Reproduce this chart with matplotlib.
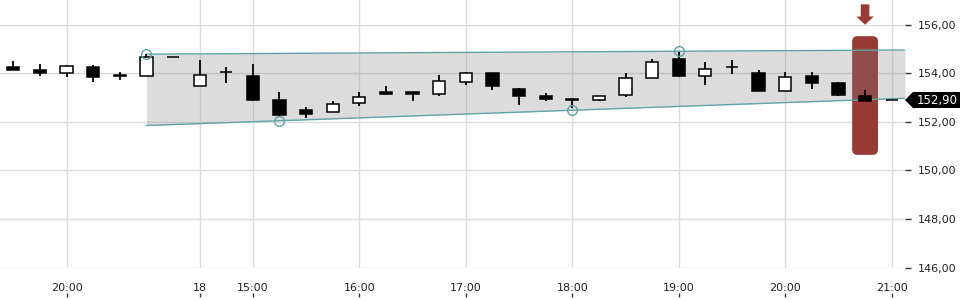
import matplotlib
matplotlib.use("Agg")
import matplotlib.pyplot as plt
import matplotlib.transforms as mtransforms
import numpy as np
from matplotlib.patches import FancyBboxPatch, FancyArrow, Polygon

# 15-minute candles
opens = [154.26, 154.15, 154.00, 154.26, 153.90, 153.88, 154.68, 153.46, 154.05, 153.90,
         152.92, 152.48, 152.40, 152.78, 153.25, 153.21, 153.15, 153.64, 154.01, 153.36,
         153.08, 152.95, 152.91, 153.11, 153.81, 154.59, 153.89, 154.25, 154.01, 153.26,
         153.90, 153.62, 153.08, 152.90]
highs = [154.52, 154.40, 154.36, 154.36, 154.04, 154.81, 154.69, 154.56, 154.27, 154.40,
         153.25, 152.63, 152.84, 153.21, 153.49, 153.21, 153.94, 154.06, 154.01, 153.40,
         153.19, 152.95, 153.07, 154.01, 154.60, 154.88, 154.47, 154.53, 154.14, 154.06,
         154.06, 153.64, 153.33, 152.90]
lows = [154.12, 153.88, 153.83, 153.66, 153.74, 153.88, 154.67, 153.46, 153.59, 152.88,
        152.20, 152.14, 152.40, 152.64, 153.11, 152.84, 153.05, 153.51, 153.30, 152.68,
        152.85, 152.58, 152.85, 153.01, 153.81, 153.85, 153.51, 153.99, 153.26, 153.26,
        153.34, 153.05, 152.85, 152.90]
closes = [154.12, 154.00, 154.30, 153.83, 153.90, 154.67, 154.68, 153.93, 154.05, 152.92,
          152.30, 152.31, 152.74, 153.03, 153.14, 153.14, 153.69, 154.01, 153.46, 153.05,
          152.93, 152.89, 153.07, 153.81, 154.47, 153.88, 154.18, 154.25, 153.26, 153.85,
          153.59, 153.09, 152.85, 152.90]

tick_idx = [2, 7, 9, 13, 17, 21, 25, 29, 33]
tick_labels = ["20:00", "18", "15:00", "16:00", "17:00", "18:00", "19:00", "20:00", "21:00"]
price_ticks = [146, 148, 150, 152, 154, 156]

# trend channel: start / end index with upper and lower values
channel_x = [5, 33.5]
channel_upper = [154.79, 154.96]
channel_lower = [151.85, 152.97]
touch_idx = [5, 10, 21, 25]
touch_side = ["upper", "lower", "lower", "upper"]

highlight_idx = 32
highlight_range = (150.66, 155.51)
last_price = 152.90

RED = "#993a35"
TEAL = "#5fa3a6"

fig = plt.figure(figsize=(9.6, 3.0), dpi=100)
ax = fig.add_axes([0, 32 / 300, 905 / 960, 268 / 300])

x = np.arange(len(opens))
o = np.array(opens)
c = np.array(closes)

# highlighted candle
pad = 0.2
hl = FancyBboxPatch(
    (highlight_idx - 0.485 + pad, highlight_range[0] + pad),
    0.97 - 2 * pad,
    highlight_range[1] - highlight_range[0] - 2 * pad,
    boxstyle=f"round,pad={pad}",
    mutation_aspect=1.1,
    facecolor=RED,
    edgecolor="none",
    zorder=1,
)
ax.add_patch(hl)
ax.add_patch(FancyArrow(
    highlight_idx, 156.84, 0, -0.84,
    width=0.32, head_width=0.66, head_length=0.34,
    length_includes_head=True, color=RED, lw=0, zorder=1,
))

# channel band
ax.fill_between(channel_x, channel_lower, channel_upper,
                color="#808080", alpha=0.27, lw=0, zorder=2)
ax.plot(channel_x, channel_upper, color=TEAL, lw=1, zorder=3)
ax.plot(channel_x, channel_lower, color=TEAL, lw=1, zorder=3)

for i, side in zip(touch_idx, touch_side):
    vals = channel_upper if side == "upper" else channel_lower
    y = np.interp(i, channel_x, vals)
    ax.plot(i, y, "o", ms=7, mfc="none", mec=TEAL, mew=1, zorder=6)

# candles
ax.vlines(x, lows, highs, color="black", lw=1.3, zorder=4)
body_bottom = np.minimum(o, c)
body_h = np.maximum(np.abs(c - o), 0.01)
colors = np.where(c > o, "white", "black")
ax.bar(x, body_h, bottom=body_bottom, width=0.46, color=colors,
       edgecolor="black", lw=1.1, zorder=5)

# last price tag
blend = mtransforms.blended_transform_factory(ax.transAxes, ax.transData)
h = 0.33
tag = Polygon(
    [(1.0, last_price), (1.0088, last_price + h), (1.0608, last_price + h),
     (1.0608, last_price - h), (1.0088, last_price - h)],
    closed=True, transform=blend, facecolor="black", edgecolor="none",
    clip_on=False, zorder=10,
)
ax.add_patch(tag)
ax.text(1.0355, last_price, f"{last_price:.2f}".replace(".", ","),
        transform=blend, color="white", fontsize=8.5,
        ha="center", va="center", zorder=11, clip_on=False)

# axes styling
ax.set_xlim(-0.5, 33.5)
ax.set_ylim(145.98, 157.02)
ax.set_yticks(price_ticks)
ax.set_yticklabels([f"{v:.2f}".replace(".", ",") for v in price_ticks])
ax.yaxis.tick_right()
ax.tick_params(axis="y", length=4, width=1, pad=5, labelsize=8,
               color="#333333", labelcolor="#222222")

ax.set_xticks(tick_idx)
ax.set_xticklabels(tick_labels)
ax.tick_params(axis="x", length=0, pad=10.5, labelsize=8, labelcolor="#222222")
ax.vlines(tick_idx, -0.108, -0.092, transform=ax.get_xaxis_transform(),
          colors="#333333", lw=1, clip_on=False)

ax.grid(color="#dcdcdc", lw=1)
ax.set_axisbelow(True)
for s in ax.spines.values():
    s.set_visible(False)

fig.savefig("out.png", dpi=100)
